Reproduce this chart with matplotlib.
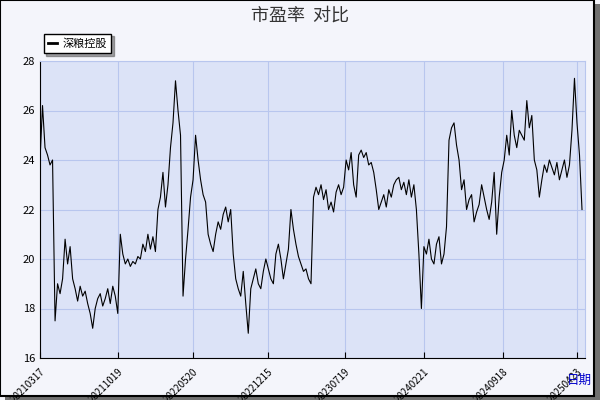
import numpy as np
import matplotlib.pyplot as plt
from matplotlib.patches import Rectangle

plt.rcParams['font.family'] = ['Noto Sans CJK SC', 'DejaVu Sans']

pe = [24.0, 26.2, 24.5, 24.2, 23.8, 24.0, 17.5, 19.0,
      18.6, 19.2, 20.8, 19.8, 20.5, 19.2, 18.8, 18.3,
      18.9, 18.5, 18.7, 18.2, 17.8, 17.2, 18.0, 18.4,
      18.6, 18.1, 18.4, 18.8, 18.2, 18.9, 18.5, 17.8,
      21.0, 20.2, 19.8, 20.0, 19.7, 19.9, 19.8, 20.1,
      20.0, 20.6, 20.3, 21.0, 20.4, 20.9, 20.3, 22.0,
      22.5, 23.5, 22.1, 23.0, 24.5, 25.5, 27.2, 26.0,
      25.0, 18.5, 20.0, 21.2, 22.5, 23.2, 25.0, 24.0,
      23.2, 22.6, 22.3, 21.0, 20.6, 20.3, 21.0, 21.5,
      21.2, 21.8, 22.1, 21.5, 22.0, 20.2, 19.2, 18.8,
      18.5, 19.5, 18.2, 17.0, 18.8, 19.2, 19.6, 19.0,
      18.8, 19.5, 20.0, 19.6, 19.2, 19.0, 20.2, 20.6,
      20.0, 19.2, 19.8, 20.4, 22.0, 21.2, 20.6, 20.1,
      19.8, 19.5, 19.6, 19.2, 19.0, 22.5, 22.9, 22.6,
      23.0, 22.4, 22.8, 22.0, 22.3, 21.9, 22.7, 23.0,
      22.6, 22.9, 24.0, 23.6, 24.3, 23.0, 22.5, 24.2,
      24.4, 24.1, 24.3, 23.8, 23.9, 23.5, 22.8, 22.0,
      22.3, 22.6, 22.1, 22.8, 22.5, 23.0, 23.2, 23.3,
      22.8, 23.1, 22.6, 23.2, 22.5, 23.0, 22.0, 20.2,
      18.0, 20.5, 20.2, 20.8, 20.0, 19.8, 20.6, 20.9,
      19.8, 20.2, 21.3, 24.8, 25.3, 25.5, 24.6, 24.0,
      22.8, 23.2, 22.0, 22.4, 22.6, 21.5, 21.9, 22.2,
      23.0, 22.5, 22.0, 21.6, 22.3, 23.5, 21.0, 22.5,
      23.5, 24.0, 25.0, 24.2, 26.0, 25.0, 24.5, 25.2,
      25.0, 24.8, 26.4, 25.3, 25.8, 24.0, 23.6, 22.5,
      23.2, 23.8, 23.5, 24.0, 23.7, 23.4, 23.9, 23.2,
      23.6, 24.0, 23.3, 23.8, 25.2, 27.3, 25.5, 24.2, 22.0]
tick_labels = ['20210317', '20211019', '20220520', '20221215',
               '20230719', '20240221', '20240918', '20250423']
tick_px = [40, 118, 193, 268, 345, 424, 503, 577]

n = len(pe)
x = np.arange(n)
ticks = [(p - 40) / 542 * (n - 1) for p in tick_px]

fig = plt.figure(figsize=(6, 4), dpi=100, facecolor='#f4f5fb')
# border with shadow
fig.patches.append(Rectangle((0.008, 0.0), 0.992, 0.99, transform=fig.transFigure,
                             facecolor='#707070', edgecolor='none', zorder=-2))
fig.patches.append(Rectangle((0.0, 0.01), 0.99, 0.99, transform=fig.transFigure,
                             facecolor='#f4f5fb', edgecolor='black', lw=1.5, zorder=-1))

ax = fig.add_axes([40/600, 42/400, 545/600, 297/400])
ax.set_facecolor('#dce3f7')
ax.plot(x, pe, color='black', lw=0.8, label='深粮控股')
ax.set_xlim(0, (585 - 40) / 542 * (n - 1))
ax.set_ylim(16, 28)
ax.set_yticks([16, 18, 20, 22, 24, 26, 28])
ax.set_xticks(ticks)
ax.set_xticklabels(tick_labels, rotation=45, ha='right', rotation_mode='anchor', fontsize=7)
ax.tick_params(axis='y', labelsize=8, length=0)
ax.tick_params(axis='x', length=4, direction='in', pad=6)
ax.grid(color='#b8c6ee', lw=0.8)
for s in ['top', 'right']:
    ax.spines[s].set_color('#b8c6ee')
ax.spines['left'].set_color('black')
ax.spines['bottom'].set_color('black')

fig.text(0.5, 0.962, '市盈率  对比', ha='center', va='center', fontsize=13, color='#333333')
fig.text(0.965, 0.05, '日期', ha='center', va='center', fontsize=9, color='#0000cc')
leg = fig.legend(loc='upper left', bbox_to_anchor=(38/600, 1 - 28/400), fontsize=8,
                 frameon=True, fancybox=False, shadow=True, handlelength=0.8,
                 borderpad=0.4, handletextpad=0.5)
leg.get_frame().set_edgecolor('black')
leg.get_frame().set_facecolor('white')
leg.get_lines()[0].set_linewidth(2)

fig.savefig('out.png', dpi=100, facecolor=fig.get_facecolor())
